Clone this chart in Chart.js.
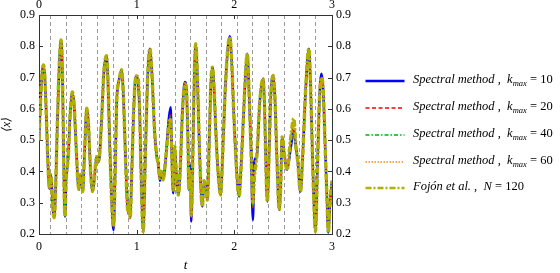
<!DOCTYPE html>
<html>
<head>
<meta charset="utf-8">
<script src="https://cdn.jsdelivr.net/npm/chart.js@4"></script>
<style>
  body { margin: 0; background: #fff; }
  #wrap { position: relative; width: 560px; height: 273px; }
  #box { position: absolute; left: 0; top: 0; width: 560px; height: 273px; }
  #legend { position: absolute; left: 365px; top: 0; font-family: "Liberation Serif", serif; font-size: 12.5px; color: #000; }
  .row { position: absolute; left: 0; height: 20px; width: 200px; white-space: nowrap; }
  .row svg { position: absolute; left: 0; top: 4px; }
  .row span { position: absolute; left: 48px; top: 1px; }
  .row i { font-style: italic; }
  sub { font-size: 8.5px; font-style: italic; vertical-align: -3px; }
</style>
</head>
<body>
<div id="wrap">
  <div id="box"><canvas id="line-chart"></canvas></div>
  <div id="legend"></div>
</div>
<script>
var tValues = [
  0.000, 0.015, 0.030, 0.045, 0.060, 0.075, 0.090, 0.100, 0.107, 0.118,
  0.128, 0.140, 0.154, 0.168, 0.185, 0.205, 0.226, 0.238, 0.248, 0.258,
  0.267, 0.277, 0.285, 0.300, 0.320, 0.342, 0.360, 0.380, 0.400, 0.410,
  0.425, 0.438, 0.448, 0.465, 0.489, 0.505, 0.525, 0.548, 0.565, 0.589,
  0.605, 0.620, 0.640, 0.665, 0.691, 0.705, 0.725, 0.745, 0.763, 0.780,
  0.795, 0.804, 0.825, 0.845, 0.860, 0.880, 0.900, 0.913, 0.923, 0.933,
  0.950, 0.970, 0.990, 1.000, 1.015, 1.030, 1.045, 1.067, 1.085, 1.110,
  1.135, 1.155, 1.185, 1.205, 1.220, 1.238, 1.252, 1.270, 1.300, 1.330,
  1.348, 1.360, 1.374, 1.390, 1.405, 1.426, 1.445, 1.470, 1.494, 1.510,
  1.525, 1.535, 1.548, 1.559, 1.575, 1.590, 1.604, 1.620, 1.640, 1.660,
  1.672, 1.690, 1.705, 1.723, 1.745, 1.760, 1.775, 1.790, 1.815, 1.840,
  1.860, 1.880, 1.905, 1.930, 1.953, 1.970, 1.995, 2.020, 2.048, 2.070,
  2.100, 2.120, 2.133, 2.150, 2.170, 2.190, 2.205, 2.230, 2.260, 2.294,
  2.310, 2.325, 2.338, 2.355, 2.375, 2.397, 2.415, 2.435, 2.460, 2.475,
  2.489, 2.510, 2.540, 2.575, 2.609, 2.630, 2.650, 2.677, 2.700, 2.730,
  2.763, 2.780, 2.800, 2.815, 2.831, 2.850, 2.870, 2.892, 2.910, 2.930,
  2.950, 2.962, 2.980, 3.000
];

var spectral10 = [
  0.50, 0.62, 0.71, 0.74, 0.70, 0.58, 0.44, 0.37, 0.345, 0.39,
  0.37, 0.29, 0.252, 0.32, 0.52, 0.72, 0.82, 0.74, 0.55, 0.33,
  0.256, 0.37, 0.40, 0.45, 0.59, 0.654, 0.61, 0.48, 0.36, 0.342,
  0.39, 0.36, 0.336, 0.45, 0.602, 0.56, 0.42, 0.336, 0.37, 0.447,
  0.43, 0.45, 0.56, 0.72, 0.77, 0.70, 0.48, 0.30, 0.212, 0.40,
  0.62, 0.664, 0.70, 0.725, 0.67, 0.50, 0.32, 0.267, 0.30, 0.251,
  0.40, 0.60, 0.70, 0.705, 0.68, 0.60, 0.40, 0.208, 0.40, 0.68,
  0.792, 0.72, 0.52, 0.45, 0.426, 0.37, 0.40, 0.373, 0.45, 0.57,
  0.605, 0.45, 0.33, 0.48, 0.40, 0.325, 0.40, 0.60, 0.686, 0.66,
  0.50, 0.341, 0.42, 0.24, 0.45, 0.70, 0.808, 0.72, 0.50, 0.33,
  0.288, 0.37, 0.35, 0.309, 0.52, 0.68, 0.733, 0.68, 0.50, 0.37,
  0.325, 0.45, 0.65, 0.78, 0.832, 0.77, 0.58, 0.42, 0.32, 0.42,
  0.62, 0.74, 0.776, 0.66, 0.48, 0.245, 0.43, 0.45, 0.62, 0.696,
  0.60, 0.40, 0.304, 0.45, 0.65, 0.707, 0.64, 0.45, 0.277, 0.36,
  0.51, 0.46, 0.405, 0.47, 0.53, 0.48, 0.43, 0.336, 0.45, 0.66,
  0.792, 0.68, 0.45, 0.30, 0.208, 0.40, 0.62, 0.712, 0.66, 0.48,
  0.30, 0.205, 0.30, 0.37
];

var spectral20 = [
  0.50, 0.62, 0.71, 0.74, 0.70, 0.58, 0.44, 0.37, 0.345, 0.39,
  0.37, 0.29, 0.252, 0.32, 0.52, 0.72, 0.82, 0.74, 0.55, 0.33,
  0.256, 0.37, 0.40, 0.45, 0.59, 0.654, 0.61, 0.48, 0.36, 0.342,
  0.39, 0.36, 0.336, 0.45, 0.602, 0.56, 0.42, 0.336, 0.37, 0.447,
  0.43, 0.45, 0.56, 0.72, 0.77, 0.70, 0.48, 0.30, 0.222, 0.40,
  0.62, 0.664, 0.70, 0.725, 0.67, 0.50, 0.32, 0.267, 0.30, 0.251,
  0.40, 0.60, 0.70, 0.705, 0.695, 0.60, 0.40, 0.208, 0.40, 0.68,
  0.792, 0.72, 0.52, 0.45, 0.426, 0.375, 0.40, 0.373, 0.45, 0.56,
  0.58, 0.45, 0.338, 0.48, 0.40, 0.325, 0.40, 0.60, 0.68, 0.66,
  0.50, 0.341, 0.40, 0.25, 0.45, 0.70, 0.808, 0.72, 0.50, 0.33,
  0.288, 0.37, 0.35, 0.309, 0.52, 0.68, 0.733, 0.68, 0.50, 0.37,
  0.325, 0.45, 0.65, 0.78, 0.829, 0.77, 0.58, 0.42, 0.32, 0.42,
  0.62, 0.74, 0.776, 0.66, 0.48, 0.28, 0.39, 0.45, 0.62, 0.696,
  0.60, 0.40, 0.304, 0.45, 0.65, 0.707, 0.64, 0.45, 0.277, 0.36,
  0.51, 0.46, 0.405, 0.49, 0.55, 0.48, 0.43, 0.336, 0.45, 0.66,
  0.792, 0.68, 0.45, 0.30, 0.208, 0.40, 0.62, 0.705, 0.66, 0.48,
  0.30, 0.205, 0.30, 0.37
];

var spectral40 = [
  0.50, 0.62, 0.71, 0.74, 0.70, 0.58, 0.44, 0.37, 0.345, 0.39,
  0.37, 0.29, 0.252, 0.32, 0.52, 0.72, 0.82, 0.74, 0.55, 0.33,
  0.256, 0.37, 0.40, 0.45, 0.59, 0.654, 0.61, 0.48, 0.36, 0.342,
  0.39, 0.36, 0.336, 0.45, 0.602, 0.56, 0.42, 0.336, 0.37, 0.447,
  0.43, 0.45, 0.56, 0.72, 0.77, 0.70, 0.48, 0.30, 0.225, 0.40,
  0.62, 0.664, 0.70, 0.725, 0.67, 0.50, 0.32, 0.267, 0.30, 0.251,
  0.40, 0.60, 0.70, 0.705, 0.697, 0.60, 0.40, 0.208, 0.40, 0.68,
  0.792, 0.72, 0.52, 0.45, 0.426, 0.378, 0.40, 0.373, 0.45, 0.55,
  0.575, 0.45, 0.341, 0.48, 0.40, 0.325, 0.40, 0.60, 0.68, 0.66,
  0.50, 0.341, 0.40, 0.26, 0.45, 0.70, 0.808, 0.72, 0.50, 0.33,
  0.288, 0.37, 0.35, 0.309, 0.52, 0.68, 0.733, 0.68, 0.50, 0.37,
  0.325, 0.45, 0.65, 0.78, 0.829, 0.77, 0.58, 0.42, 0.32, 0.42,
  0.62, 0.74, 0.776, 0.66, 0.48, 0.29, 0.38, 0.45, 0.62, 0.696,
  0.60, 0.40, 0.304, 0.45, 0.65, 0.707, 0.64, 0.45, 0.277, 0.36,
  0.51, 0.46, 0.405, 0.50, 0.565, 0.48, 0.43, 0.336, 0.45, 0.66,
  0.792, 0.68, 0.45, 0.30, 0.208, 0.40, 0.62, 0.70, 0.66, 0.48,
  0.30, 0.205, 0.30, 0.37
];

var spectral60 = [
  0.50, 0.62, 0.71, 0.74, 0.70, 0.58, 0.44, 0.37, 0.345, 0.39,
  0.37, 0.29, 0.252, 0.32, 0.52, 0.72, 0.82, 0.74, 0.55, 0.33,
  0.256, 0.37, 0.40, 0.45, 0.59, 0.654, 0.61, 0.48, 0.36, 0.342,
  0.39, 0.36, 0.336, 0.45, 0.602, 0.56, 0.42, 0.336, 0.37, 0.447,
  0.43, 0.45, 0.56, 0.72, 0.77, 0.70, 0.48, 0.30, 0.225, 0.40,
  0.62, 0.664, 0.70, 0.725, 0.67, 0.50, 0.32, 0.267, 0.30, 0.251,
  0.40, 0.60, 0.70, 0.705, 0.697, 0.60, 0.40, 0.208, 0.40, 0.68,
  0.792, 0.72, 0.52, 0.45, 0.426, 0.378, 0.40, 0.373, 0.45, 0.54,
  0.56, 0.45, 0.341, 0.48, 0.40, 0.325, 0.40, 0.60, 0.68, 0.66,
  0.50, 0.341, 0.40, 0.26, 0.45, 0.70, 0.808, 0.72, 0.50, 0.33,
  0.288, 0.37, 0.35, 0.309, 0.52, 0.68, 0.733, 0.68, 0.50, 0.37,
  0.325, 0.45, 0.65, 0.78, 0.829, 0.77, 0.58, 0.42, 0.32, 0.42,
  0.62, 0.74, 0.776, 0.66, 0.48, 0.30, 0.38, 0.45, 0.62, 0.696,
  0.60, 0.40, 0.304, 0.45, 0.65, 0.707, 0.64, 0.45, 0.277, 0.36,
  0.51, 0.46, 0.405, 0.50, 0.56, 0.48, 0.43, 0.336, 0.45, 0.66,
  0.792, 0.68, 0.45, 0.30, 0.208, 0.40, 0.62, 0.70, 0.66, 0.48,
  0.30, 0.205, 0.30, 0.37
];

var fojon120 = [
  0.50, 0.62, 0.71, 0.74, 0.70, 0.58, 0.44, 0.37, 0.345, 0.39,
  0.37, 0.29, 0.252, 0.32, 0.52, 0.72, 0.82, 0.74, 0.55, 0.33,
  0.256, 0.37, 0.40, 0.45, 0.59, 0.654, 0.61, 0.48, 0.36, 0.342,
  0.39, 0.36, 0.336, 0.45, 0.602, 0.56, 0.42, 0.336, 0.37, 0.447,
  0.43, 0.45, 0.56, 0.72, 0.77, 0.70, 0.48, 0.30, 0.225, 0.40,
  0.62, 0.664, 0.70, 0.725, 0.67, 0.50, 0.32, 0.267, 0.30, 0.251,
  0.40, 0.60, 0.70, 0.705, 0.697, 0.60, 0.40, 0.208, 0.40, 0.68,
  0.792, 0.72, 0.52, 0.45, 0.426, 0.378, 0.40, 0.373, 0.45, 0.55,
  0.565, 0.45, 0.341, 0.48, 0.40, 0.325, 0.40, 0.60, 0.68, 0.66,
  0.50, 0.341, 0.40, 0.26, 0.45, 0.70, 0.808, 0.72, 0.50, 0.33,
  0.288, 0.37, 0.35, 0.309, 0.52, 0.68, 0.733, 0.68, 0.50, 0.37,
  0.325, 0.45, 0.65, 0.78, 0.829, 0.77, 0.58, 0.42, 0.32, 0.42,
  0.62, 0.74, 0.776, 0.66, 0.48, 0.30, 0.38, 0.45, 0.62, 0.696,
  0.60, 0.40, 0.304, 0.45, 0.65, 0.707, 0.64, 0.45, 0.277, 0.36,
  0.51, 0.46, 0.405, 0.50, 0.569, 0.48, 0.43, 0.336, 0.45, 0.66,
  0.792, 0.68, 0.45, 0.30, 0.208, 0.40, 0.62, 0.70, 0.66, 0.48,
  0.30, 0.205, 0.30, 0.37
];

// dashed vertical markers
var markerT = [0.120, 0.277, 0.438, 0.595, 0.759, 0.913, 1.074, 1.235, 1.395,
               1.553, 1.713, 1.871, 2.031, 2.189, 2.349, 2.510, 2.667, 2.828];

var xTicks = [0, 1, 2, 3];
var yTicks = [0.2, 0.3, 0.4, 0.5, 0.6, 0.7, 0.8, 0.9];

var seriesLabels = [
  '<i>Spectral method</i> ,&nbsp; <i>k</i><sub>max</sub> = 10',
  '<i>Spectral method</i> ,&nbsp; <i>k</i><sub>max</sub> = 20',
  '<i>Spectral method</i> ,&nbsp; <i>k</i><sub>max</sub> = 40',
  '<i>Spectral method</i> ,&nbsp; <i>k</i><sub>max</sub> = 60',
  '<i>Fojón et al.</i> ,&nbsp; <i>N</i> = 120'
];

var FONT = '"Liberation Serif", "DejaVu Serif", serif';

function pts(values) {
  return values.map(function (v, i) { return {x: tValues[i], y: v}; });
}

var styles = [
  {color: '#0000ff', width: 2.5, dash: [], order: 5, key: 2.5},
  {color: '#ff0000', width: 1.5, dash: [4, 2.5], order: 4, key: 1.5},
  {color: '#00b400', width: 1.5, dash: [4, 2, 1.5, 2], order: 3, key: 1.5},
  {color: '#ff8c14', width: 1.5, dash: [1.5, 1.5], order: 2, key: 1.5},
  {color: '#b0b000', width: 3.5, dash: [6, 2, 2, 2], order: 1, key: 2.5}
];
var seriesData = [spectral10, spectral20, spectral40, spectral60, fojon120];

var datasets = seriesData.map(function (vals, i) {
  return {
    label: 'series' + i,
    data: pts(vals),
    borderColor: styles[i].color,
    borderWidth: styles[i].width,
    borderDash: styles[i].dash,
    order: styles[i].order,
    pointRadius: 0,
    fill: false,
    cubicInterpolationMode: 'monotone',
    xAxisID: 'x',
    yAxisID: 'y'
  };
});

// short tick marks pointing into the plot box
var innerTicks = {
  id: 'innerTicks',
  beforeDatasetsDraw: function (chart) {
    var ctx = chart.ctx, a = chart.chartArea, s = chart.scales;
    ctx.save();
    ctx.strokeStyle = '#333';
    ctx.lineWidth = 1;
    ctx.beginPath();
    yTicks.forEach(function (v) {
      var p = Math.round(s.y.getPixelForValue(v)) + 0.5;
      ctx.moveTo(a.left, p); ctx.lineTo(a.left + 4, p);
      ctx.moveTo(a.right - 4, p); ctx.lineTo(a.right, p);
    });
    xTicks.forEach(function (v) {
      var p = Math.round(s.x.getPixelForValue(v)) + 0.5;
      ctx.moveTo(p, a.bottom); ctx.lineTo(p, a.bottom - 4);
      ctx.moveTo(p, a.top); ctx.lineTo(p, a.top + 4);
    });
    ctx.stroke();
    ctx.restore();
  }
};

function fixedTicks(list) {
  return function (scale) {
    scale.ticks = list.map(function (v) { return {value: v}; });
  };
}

var tickFont = {family: FONT, size: 12};
var axisBorder = {display: true, color: '#333', width: 1};

new Chart(document.getElementById('line-chart'), {
  type: 'line',
  data: {datasets: datasets},
  options: {
    responsive: true,
    maintainAspectRatio: false,
    animation: false,
    layout: {padding: {right: 200}},
    plugins: {legend: {display: false}, tooltip: {enabled: false}},
    scales: {
      xg: {
        type: 'linear', position: 'bottom', min: 0, max: 3,
        afterBuildTicks: fixedTicks(markerT),
        afterFit: function (s) { s.height = 0; },
        ticks: {display: false},
        grid: {display: true, drawTicks: false, color: 'rgba(120,120,120,0.75)', lineWidth: 1},
        border: {display: false, dash: [4, 3]}
      },
      x: {
        type: 'linear', position: 'bottom', min: 0, max: 3,
        afterBuildTicks: fixedTicks(xTicks),
        afterFit: function (s) { s.height = 39; },
        ticks: {font: tickFont, color: '#000', padding: 6, maxRotation: 0},
        grid: {display: false, drawTicks: false},
        border: axisBorder,
        title: {display: true, text: 't', font: {family: FONT, size: 13, style: 'italic'}, color: '#000', padding: {top: 0, bottom: 0}}
      },
      xTop: {
        type: 'linear', position: 'top', min: 0, max: 3,
        afterBuildTicks: fixedTicks(xTicks),
        afterFit: function (s) { s.height = 15; },
        ticks: {font: tickFont, color: '#000', padding: 3, maxRotation: 0},
        grid: {display: false, drawTicks: false},
        border: axisBorder
      },
      y: {
        type: 'linear', position: 'left', min: 0.2, max: 0.9,
        afterBuildTicks: fixedTicks(yTicks),
        afterFit: function (s) { s.width = 39; },
        ticks: {font: tickFont, color: '#000', padding: 4, callback: function (v) { return v.toFixed(1); }},
        grid: {display: false, drawTicks: false},
        border: axisBorder,
        title: {display: true, text: '⟨x⟩', font: {family: FONT, size: 12, style: 'italic'}, color: '#000', padding: {top: 0, bottom: 0}}
      },
      yRight: {
        type: 'linear', position: 'right', min: 0.2, max: 0.9,
        afterBuildTicks: fixedTicks(yTicks),
        afterFit: function (s) { s.width = 28; },
        ticks: {font: tickFont, color: '#000', padding: 4, callback: function (v) { return v.toFixed(1); }},
        grid: {display: false, drawTicks: false},
        border: axisBorder
      }
    }
  },
  plugins: [innerTicks]
});

// legend drawn as html so the subscripts come out right
var legendTop = [81, 108, 134.5, 161.5, 187.5];
var legend = document.getElementById('legend');
styles.forEach(function (st, i) {
  var row = document.createElement('div');
  row.className = 'row';
  row.style.top = (legendTop[i] - 10) + 'px';
  var dash = st.dash.length ? st.dash.join(' ') : 'none';
  row.innerHTML =
    '<svg width="40" height="12"><line x1="0.5" y1="6" x2="39.5" y2="6" stroke="' + st.color +
    '" stroke-width="' + st.key + '" stroke-dasharray="' + dash + '"/></svg>' +
    '<span>' + seriesLabels[i] + '</span>';
  legend.appendChild(row);
});
</script>
</body>
</html>
